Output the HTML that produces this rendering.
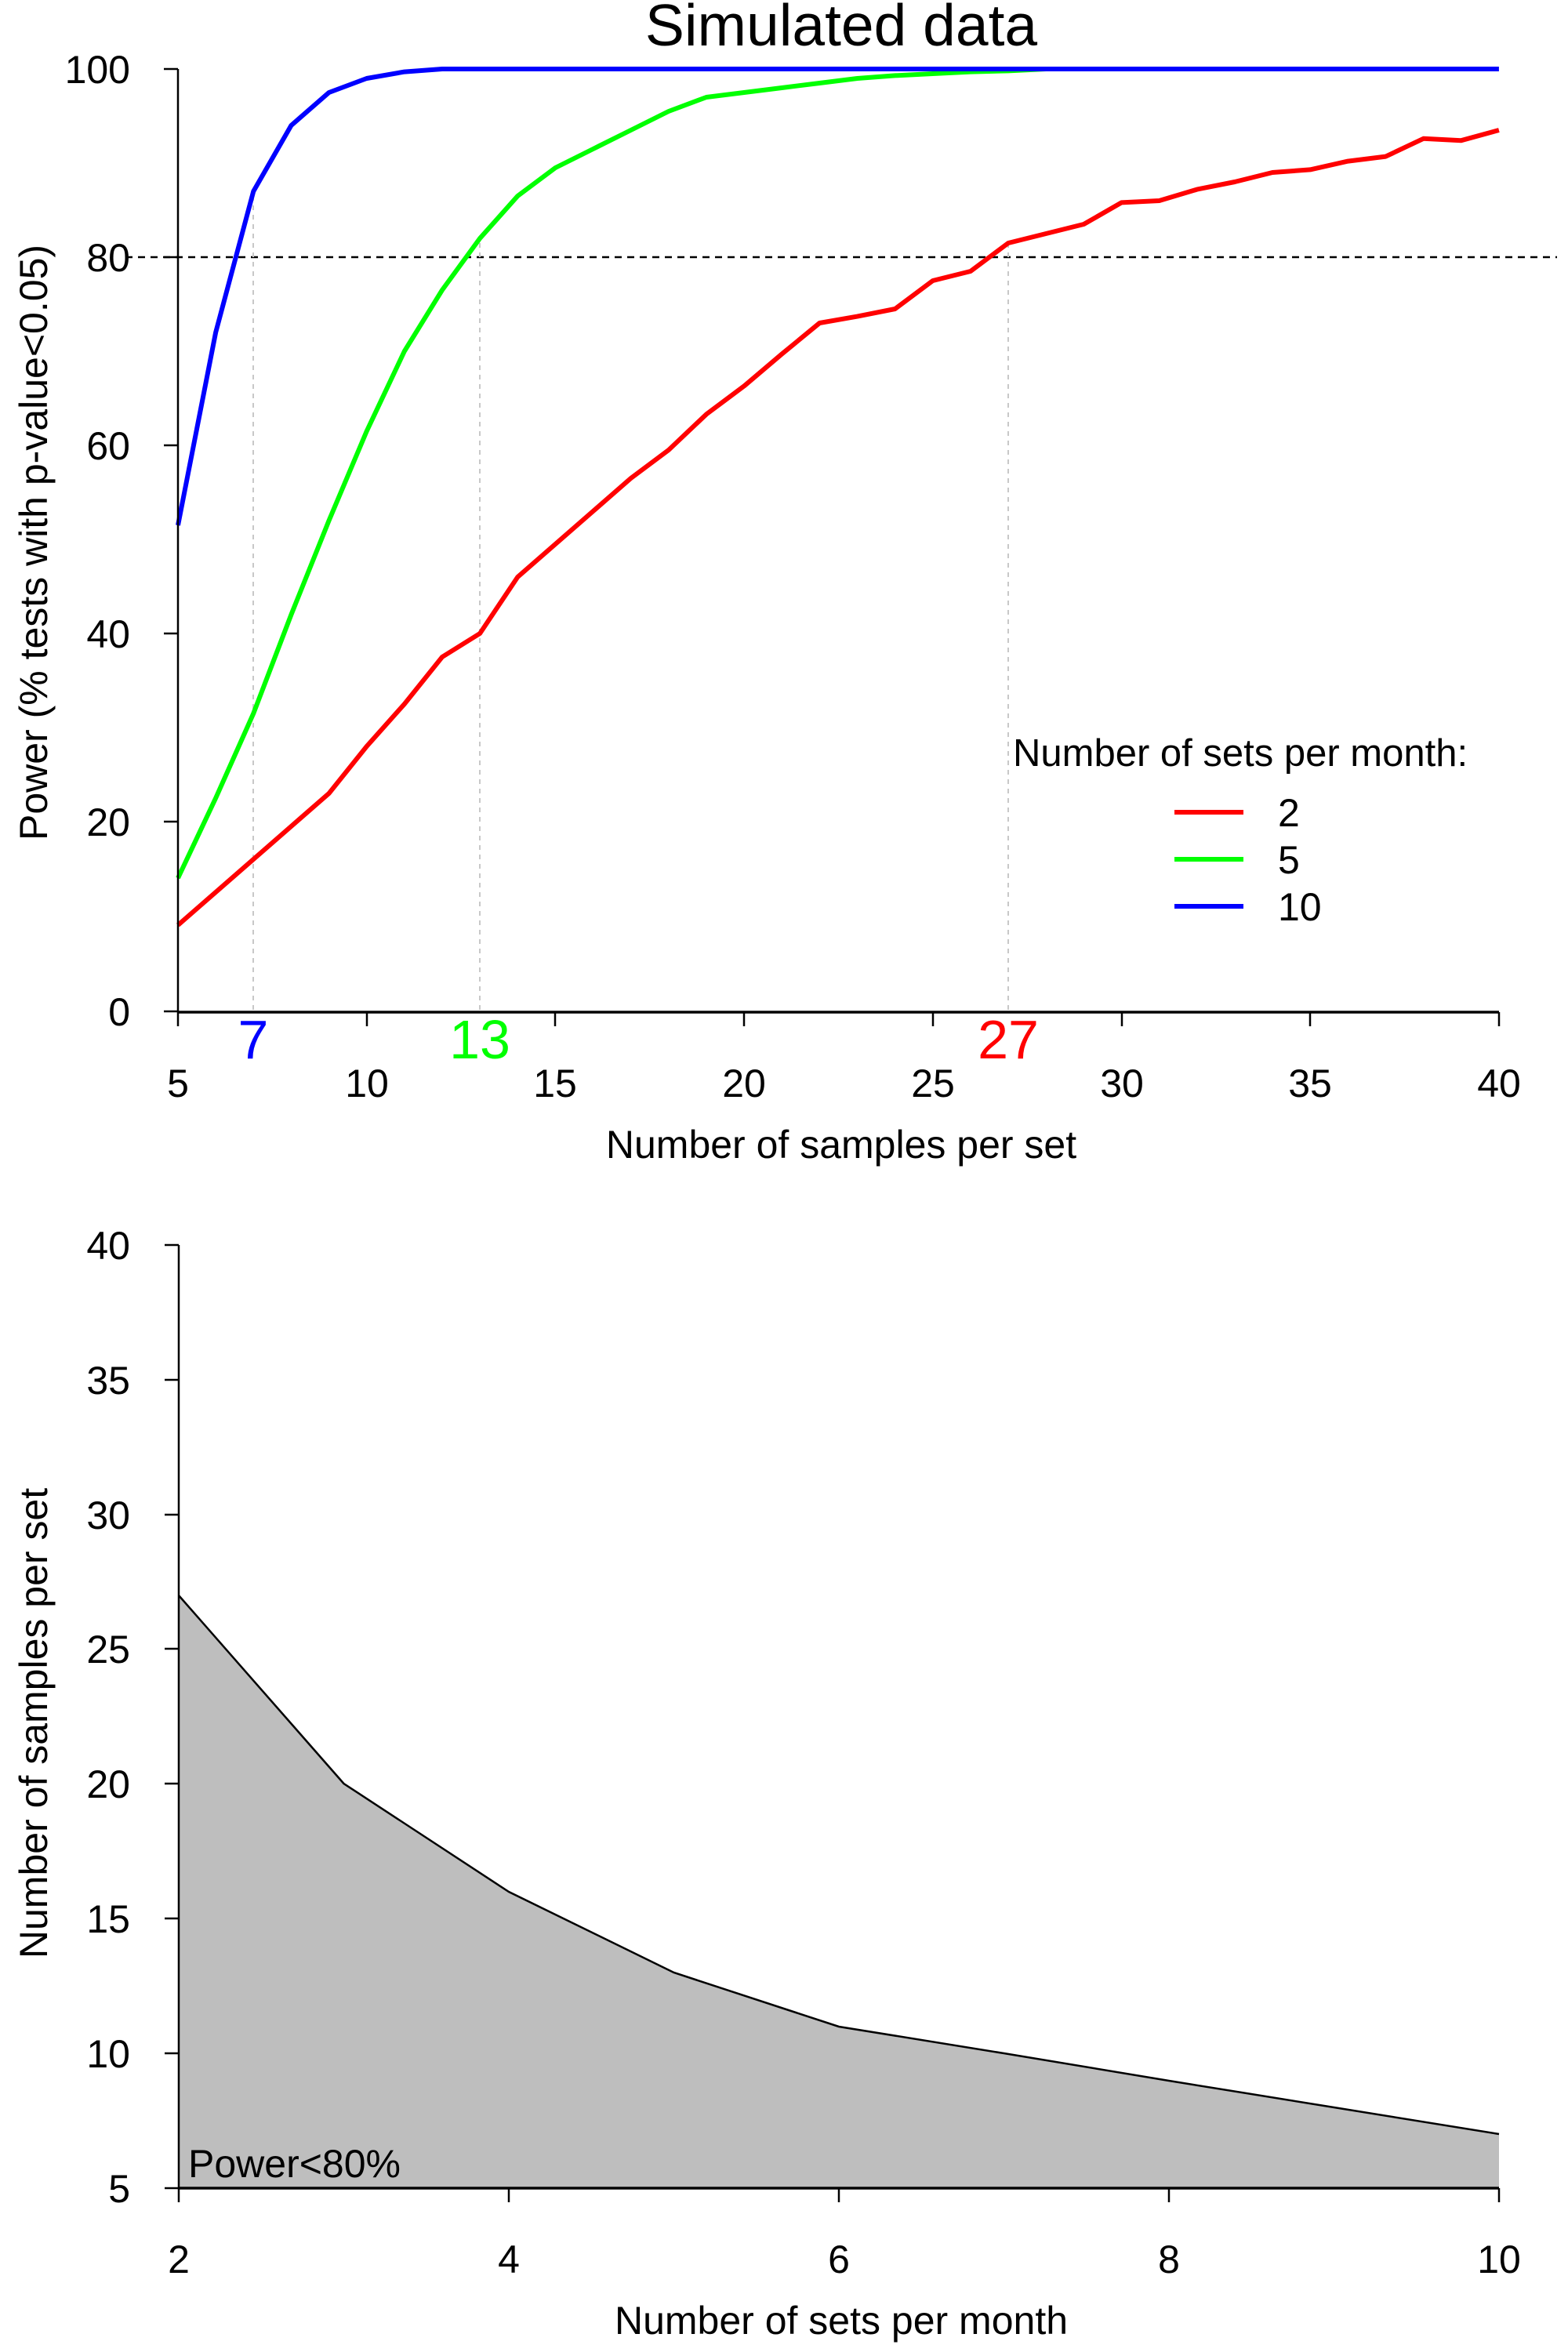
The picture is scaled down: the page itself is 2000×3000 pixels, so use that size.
<!DOCTYPE html>
<html><head><meta charset="utf-8"><style>
html,body{margin:0;padding:0;background:#fff;}
svg{display:block;font-family:"Liberation Sans",Arial,sans-serif;}
</style></head><body>
<svg width="2000" height="3000" viewBox="0 0 2000 3000" xmlns="http://www.w3.org/2000/svg">
<rect width="2000" height="3000" fill="#fff"/>
<!-- TOP PLOT -->
<text x="1073" y="58" font-size="75" text-anchor="middle">Simulated data</text>
<line x1="160" y1="328" x2="1986" y2="328" stroke="#000" stroke-width="2.5" stroke-dasharray="9,7"/>
<g stroke="#c8c8c8" stroke-width="2" stroke-dasharray="6,6">
<line x1="323" y1="1288" x2="323" y2="244"/>
<line x1="612" y1="1288" x2="612" y2="304"/>
<line x1="1286" y1="1288" x2="1286" y2="310"/>
</g>
<g transform="translate(227,1288) scale(48.14,-12) translate(-5,0)" fill="none" stroke-linejoin="round">
<polyline vector-effect="non-scaling-stroke" stroke="#ff0000" stroke-width="6" points="5,9 6,12.5 7,16 8,19.5 9,23 10,28 11,32.5 12,37.5 13,40 14,46 15,49.5 16,53 17,56.5 18,59.5 19,63.3 20,66.3 21,69.7 22,73 23,73.7 24,74.5 25,77.5 26,78.5 27,81.5 28,82.5 29,83.5 30,85.8 31,86 32,87.2 33,88 34,89 35,89.3 36,90.2 37,90.7 38,92.6 39,92.4 40,93.5"/>
<polyline vector-effect="non-scaling-stroke" stroke="#00ff00" stroke-width="6" points="5,14 6,22.5 7,31.5 8,42 9,52 10,61.5 11,70 12,76.5 13,82 14,86.5 15,89.5 16,91.5 17,93.5 18,95.5 19,97 20,97.5 21,98 22,98.5 23,99 24,99.3 25,99.5 26,99.7 27,99.8 28,100 30,100"/>
<polyline vector-effect="non-scaling-stroke" stroke="#0000ff" stroke-width="6" points="5,51.5 6,72 7,87 8,94 9,97.5 10,99 11,99.7 12,100 40,100"/>
</g>
<g stroke="#000" stroke-width="2.5">
<line x1="227" y1="88" x2="227" y2="1291"/>
<line x1="209" y1="88" x2="227" y2="88"/><line x1="209" y1="328" x2="227" y2="328"/>
<line x1="209" y1="568" x2="227" y2="568"/><line x1="209" y1="808" x2="227" y2="808"/>
<line x1="209" y1="1048" x2="227" y2="1048"/><line x1="209" y1="1290" x2="227" y2="1290"/>
<line x1="227" y1="1291" x2="1912" y2="1291" stroke-width="3.5"/>
<line x1="227" y1="1291" x2="227" y2="1309"/><line x1="468" y1="1291" x2="468" y2="1309"/>
<line x1="708" y1="1291" x2="708" y2="1309"/><line x1="949" y1="1291" x2="949" y2="1309"/>
<line x1="1190" y1="1291" x2="1190" y2="1309"/><line x1="1431" y1="1291" x2="1431" y2="1309"/>
<line x1="1671" y1="1291" x2="1671" y2="1309"/><line x1="1912" y1="1291" x2="1912" y2="1309"/>
</g>
<g font-size="50" text-anchor="end">
<text x="166" y="106">100</text><text x="166" y="346">80</text><text x="166" y="586">60</text>
<text x="166" y="826">40</text><text x="166" y="1066">20</text><text x="166" y="1308">0</text>
</g>
<g font-size="50" text-anchor="middle">
<text x="227" y="1399">5</text><text x="468" y="1399">10</text><text x="708" y="1399">15</text>
<text x="949" y="1399">20</text><text x="1190" y="1399">25</text><text x="1431" y="1399">30</text>
<text x="1671" y="1399">35</text><text x="1912" y="1399">40</text>
<text x="1073" y="1477">Number of samples per set</text>
</g>
<g font-size="70" text-anchor="middle">
<text x="323" y="1350" fill="#0000ff">7</text>
<text x="612" y="1350" fill="#00ff00">13</text>
<text x="1286" y="1350" fill="#ff0000">27</text>
</g>
<text transform="translate(60,692) rotate(-90)" font-size="50" text-anchor="middle">Power (% tests with p-value&lt;0.05)</text>
<text x="1292" y="977" font-size="49">Number of sets per month:</text>
<line x1="1498" y1="1036" x2="1586" y2="1036" stroke="#ff0000" stroke-width="6"/>
<line x1="1498" y1="1096" x2="1586" y2="1096" stroke="#00ff00" stroke-width="6"/>
<line x1="1498" y1="1156" x2="1586" y2="1156" stroke="#0000ff" stroke-width="6"/>
<g font-size="50"><text x="1630" y="1054">2</text><text x="1630" y="1114">5</text><text x="1630" y="1174">10</text></g>

<!-- BOTTOM PLOT -->
<polygon points="228,2035 438.5,2275 649,2413 859.5,2516 1070,2585 1280.5,2619 1491,2654 1701.5,2688 1912,2722 1912,2791 228,2791" fill="#bebebe" stroke="none"/>
<polyline points="228,2035 438.5,2275 649,2413 859.5,2516 1070,2585 1280.5,2619 1491,2654 1701.5,2688 1912,2722" fill="none" stroke="#000" stroke-width="2.5"/>
<g stroke="#000" stroke-width="2.5">
<line x1="228" y1="1588" x2="228" y2="2791"/>
<line x1="210" y1="1588" x2="228" y2="1588"/><line x1="210" y1="1760" x2="228" y2="1760"/>
<line x1="210" y1="1932" x2="228" y2="1932"/><line x1="210" y1="2103" x2="228" y2="2103"/>
<line x1="210" y1="2275" x2="228" y2="2275"/><line x1="210" y1="2447" x2="228" y2="2447"/>
<line x1="210" y1="2619" x2="228" y2="2619"/><line x1="210" y1="2791" x2="228" y2="2791"/>
<line x1="228" y1="2791" x2="1912" y2="2791" stroke-width="3.5"/>
<line x1="228" y1="2791" x2="228" y2="2809"/><line x1="649" y1="2791" x2="649" y2="2809"/>
<line x1="1070" y1="2791" x2="1070" y2="2809"/><line x1="1491" y1="2791" x2="1491" y2="2809"/>
<line x1="1912" y1="2791" x2="1912" y2="2809"/>
</g>
<g font-size="50" text-anchor="end">
<text x="166" y="1606">40</text><text x="166" y="1778">35</text><text x="166" y="1950">30</text>
<text x="166" y="2121">25</text><text x="166" y="2293">20</text><text x="166" y="2465">15</text>
<text x="166" y="2637">10</text><text x="166" y="2809">5</text>
</g>
<g font-size="50" text-anchor="middle">
<text x="228" y="2899">2</text><text x="649" y="2899">4</text><text x="1070" y="2899">6</text>
<text x="1491" y="2899">8</text><text x="1912" y="2899">10</text>
<text x="1073" y="2977">Number of sets per month</text>
</g>
<text x="240" y="2777" font-size="50">Power&lt;80%</text>
<text transform="translate(60,2198) rotate(-90)" font-size="50" text-anchor="middle">Number of samples per set</text>
</svg>
</body></html>
